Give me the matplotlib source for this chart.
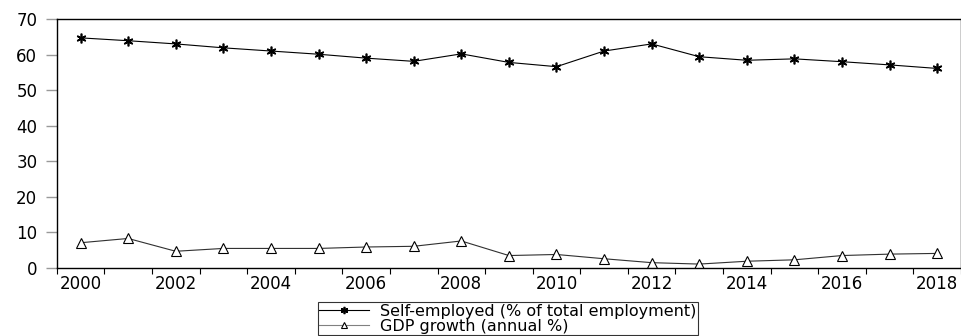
import matplotlib
matplotlib.use("Agg")
import matplotlib.pyplot as plt
import numpy as np

plt.rcParams['font.family'] = ['DejaVu Sans']

# annual data, 2000-2018
years = np.arange(2000, 2019)
self_employed = [64.7, 63.9, 63.0, 61.9, 61.0, 60.1, 59.0, 58.1, 60.2, 57.8,
                 56.6, 61.0, 63.0, 59.4, 58.4, 58.8, 58.0, 57.1, 56.1]
gdp_growth = [7.1, 8.3, 4.7, 5.5, 5.5, 5.5, 5.9, 6.1, 7.6, 3.5,
              3.8, 2.6, 1.5, 1.1, 1.9, 2.3, 3.5, 3.9, 4.1]
label_years = np.arange(2000, 2019, 2)
y_ticks = [0, 10, 20, 30, 40, 50, 60, 70]

fig = plt.figure(figsize=(9.62, 3.36), dpi=100)
ax = fig.add_axes([0.059, 0.2024, 0.94, 0.741])

# points sit in the middle of each year
xs = years + 0.5
ax.plot(xs, self_employed, color='black', lw=0.8,
        marker=(6, 2, 0), ms=7, mew=1.2, mec='black',
        label='Self-employed (% of total employment)')
ax.plot(xs, gdp_growth, color='#303030', lw=0.8,
        marker='^', ms=6.5, mfc='white', mec='black', mew=0.8,
        label='GDP growth (annual %)')

ax.set_xlim(2000, 2019)
ax.set_ylim(0, 70)

ax.set_xticks(label_years + 0.5)
ax.set_xticklabels([str(y) for y in label_years])
ax.set_xticks(np.arange(2000, 2020), minor=True)
ax.tick_params(axis='x', which='major', length=0, pad=5, labelsize=12)
ax.tick_params(axis='x', which='minor', length=4, width=0.8, direction='out', color='black')

ax.set_yticks(y_ticks)
ax.tick_params(axis='y', length=8, width=1.0, color='#999999', pad=6, labelsize=12)

for s in ax.spines.values():
    s.set_linewidth(1.0)
    s.set_color('black')

leg = fig.legend(loc='upper center', bbox_to_anchor=(0.528, 0.101), ncol=1,
                 fontsize=11.5, frameon=True, fancybox=False, edgecolor='black',
                 handlelength=3.1, labelspacing=0.0, borderpad=0.1,
                 handletextpad=0.7, borderaxespad=0, markerscale=0.75)
leg.get_frame().set_linewidth(0.8)
leg.get_lines()[1].set_color('#808080')

fig.savefig('out.png', dpi=100)
